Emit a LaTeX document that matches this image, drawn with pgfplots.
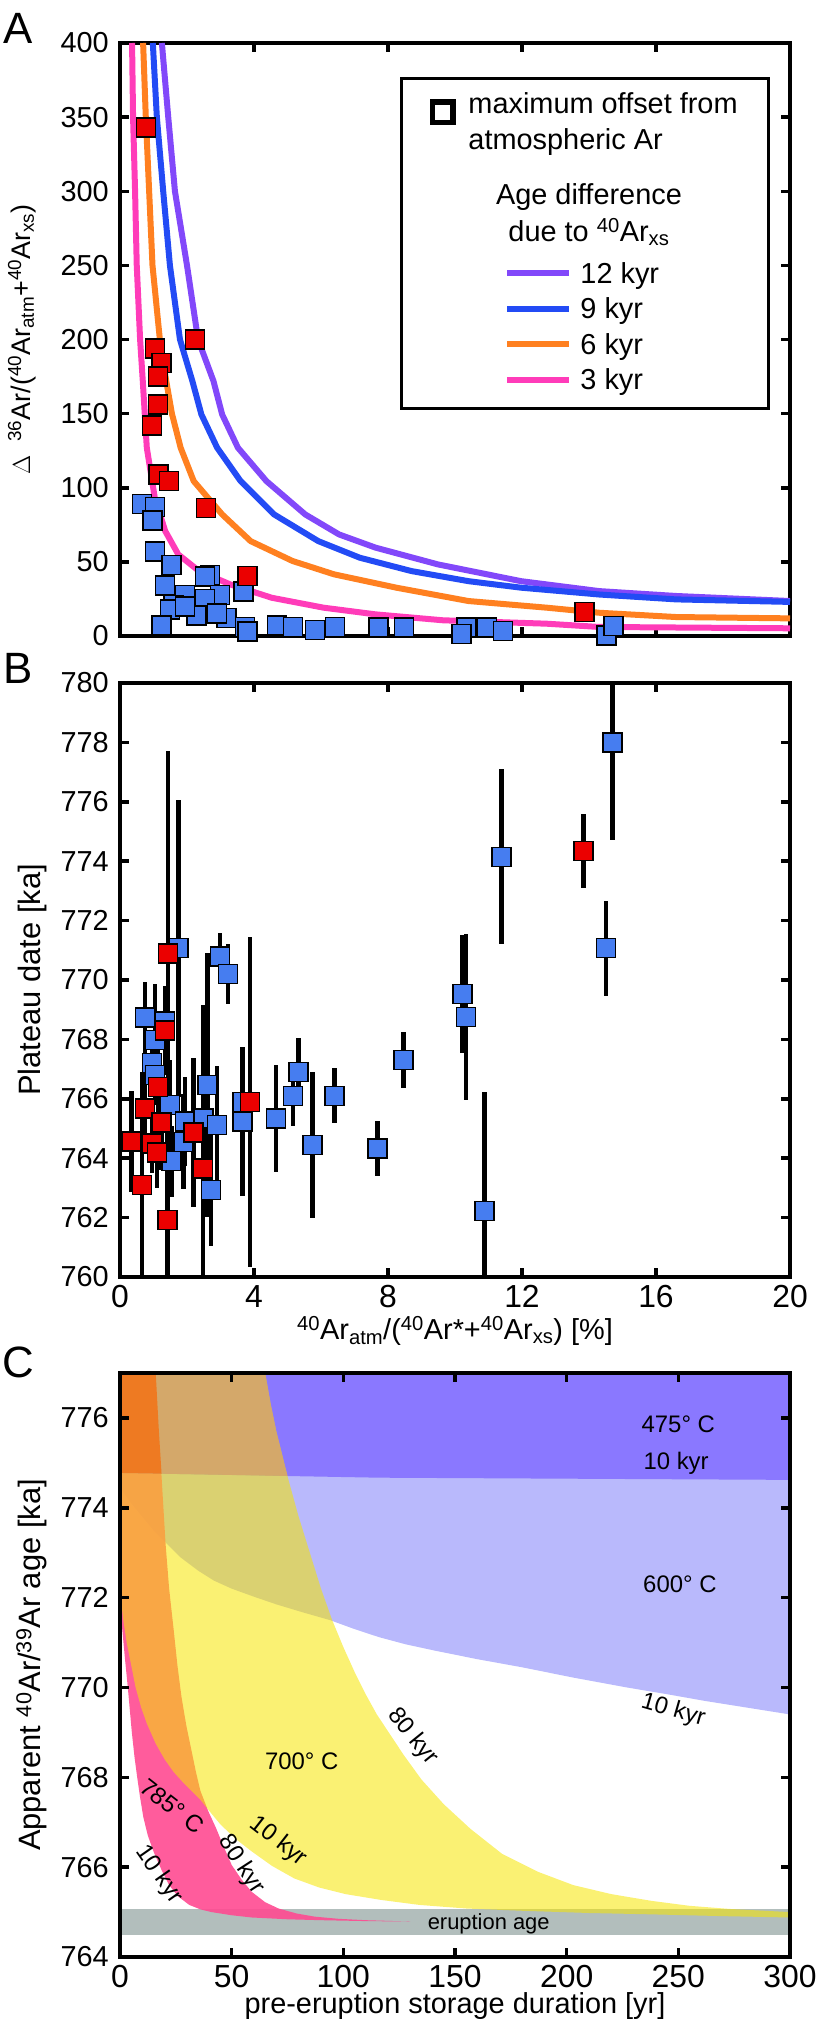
\documentclass[border=0pt]{standalone}
\usepackage{fontspec}
\setmainfont{Liberation Sans}
\usepackage{pgfplots}
\usepackage{pgfplotstable}
\pgfplotsset{compat=1.18}

\definecolor{c12}{RGB}{130,72,250}
\definecolor{c9}{RGB}{35,75,245}
\definecolor{c6}{RGB}{255,128,32}
\definecolor{c3}{RGB}{255,60,185}
\definecolor{mblue}{RGB}{70,125,240}
\definecolor{mred}{RGB}{235,0,0}
\definecolor{cpurple}{RGB}{138,120,255}
\definecolor{clav}{RGB}{185,185,252}
\definecolor{cyel}{RGB}{246,230,0}
\definecolor{cpink}{RGB}{255,74,145}
\definecolor{cgrey}{RGB}{178,190,188}
\definecolor{ctan}{RGB}{212,168,106}
\definecolor{cdorange}{RGB}{238,122,34}

\newcommand{\fs}[1]{\fontsize{#1}{#1}\selectfont}

\pgfplotsset{
  panel/.style={
    scale only axis, width=670bp,
    axis line style={line width=3.5bp},
    tick style={black, line width=3.5bp},
    major tick length=9bp,
    tick align=inside,
    /pgf/number format/assume math mode=true,
    yticklabel style={font=\fs{29}, anchor=east, inner sep=0pt, xshift=-11bp},
    xticklabel style={font=\fs{32}, anchor=north, inner sep=0pt, yshift=-8bp},
  },
  msq/.style={only marks, mark=square*, mark size=9.5bp, forget plot,
    mark options={draw=black, line width=1.5bp, fill=#1}},
  ebar/.style={only marks, mark=none, forget plot,
    error bars/.cd, y dir=both, y explicit, error mark=none,
    error bar style={draw=black, line width=4.5bp}},
}

% ---------- Panel A data ----------
\pgfplotstableread{
x y
0.65 89
1.04 87
0.97 78
1.04 57
1.54 48
2.69 41
2.54 40
1.34 34
1.94 27.6
2.99 27.6
2.54 25
3.68 30
1.59 21
1.49 18
2.29 14
3.18 12
2.89 15.3
1.94 20
1.24 7
3.73 6
3.8 3
4.68 7
5.17 6
5.82 4
6.42 6
7.71 5.6
8.48 5.6
10.34 5.6
10.2 1.5
10.96 5.6
11.43 3.4
14.52 0.5
14.73 6.7
}\Ablue
\pgfplotstableread{
x y
0.77 343
1.04 194
2.24 200
1.24 184
1.14 175
1.14 156
0.96 142
1.15 109
1.46 104.5
2.56 86.5
3.8 40.4
13.86 16.2
}\Ared

% ---------- Panel B data ----------
\pgfplotstableread{
x y e
0.75 768.74 1.2
1.04 767.98 1.9
0.95 767.2 1.0
1.34 768.6 1.0
1.74 771.07 5.0
1.04 766.8 1.0
1.49 765.8 1.5
1.54 763.9 1.2
1.94 765.23 1.5
1.89 764.55 1.6
2.49 765.34 2.0
2.61 766.46 4.45
2.72 762.93 1.9
2.89 765.12 2.0
2.99 770.79 0.8
3.23 770.2 1.0
3.66 765.23 2.5
3.66 765.9 0.8
4.66 765.34 1.8
5.17 766.1 1.0
5.33 766.9 1.15
5.75 764.44 2.45
6.41 766.1 0.93
7.69 764.33 0.93
8.46 767.31 0.95
10.23 769.53 2.0
10.33 768.76 2.8
10.88 762.22 4.0
11.39 774.15 2.95
14.5 771.07 1.6
14.7 778.0 3.3
}\Bblue
\pgfplotstableread{
x y e
0.35 764.56 1.7
0.65 763.1 3.8
0.75 765.68 1.3
0.95 764.5 1.0
1.1 764.2 1.2
1.14 766.4 1.3
1.24 765.2 1.6
1.34 768.3 1.5
1.44 770.9 6.8
1.42 761.92 4.0
2.2 764.86 2.5
2.48 763.66 5.5
3.88 765.9 5.55
13.83 774.35 1.25
}\Bred

\begin{document}
\begin{tikzpicture}
\useasboundingbox (0,0) rectangle (816bp,-2023bp);

% ================= A =================
\begin{axis}[panel, at={(120bp,-636bp)}, anchor=south west, height=593bp,
  xmin=0, xmax=20, ymin=0, ymax=400,
  xtick={0,4,...,20}, xticklabels={},
  ytick={0,50,...,400},
  clip=false,
  ylabel={\(\Delta\)\hspace{14bp}\textsuperscript{36}Ar/(\textsuperscript{40}Ar\textsubscript{atm}+\textsuperscript{40}Ar\textsubscript{xs})},
  ylabel style={font=\fs{27}, at={(axis description cs:-0.134,0.5)}, anchor=base},
  legend style={at={(axis description cs:0.9701,0.9427)}, anchor=north east,
    draw=black, line width=3bp, fill=white, inner sep=0pt,
    row sep=0pt, column sep=8.5bp, font=\fs{29},
    nodes={inner sep=0pt, text depth=, text height=}},
  legend cell align=left,
]
\addplot[c12, line width=6bp, line join=round, forget plot] coordinates {
(1.25,400)(1.44,350)(1.64,300)(2.0,250)(2.33,200)(2.79,172)(3.05,149.4)(3.52,127)(4.37,104.5)(5.53,82)(6.54,68.5)(7.63,59.6)(9.49,48.3)(11.97,37)(14.3,30.3)(16.6,27)(20,23.6)};
\addplot[c9, line width=6bp, line join=round, forget plot] coordinates {
(0.98,400)(1.1,350)(1.29,300)(1.49,250)(1.79,200)(2.16,172)(2.43,149.4)(2.9,127)(3.6,104.5)(4.6,82)(5.92,64)(7.16,52.8)(8.7,43.8)(10.4,37)(11.97,32.6)(14.3,28)(16.6,24.7)(20,23)};
\addplot[c6, line width=6bp, line join=round, forget plot] coordinates {
(0.69,400)(0.77,350)(0.87,300)(0.97,250)(1.19,200)(1.38,172)(1.55,150)(1.81,127)(2.2,104.5)(3.05,82)(3.9,64)(5.15,50.6)(6.39,41.6)(8.25,32.6)(10.4,23.6)(12.74,19.1)(14.3,15.7)(16.6,12.8)(20,11.9)};
\addplot[c3, line width=6bp, line join=round, forget plot] coordinates {
(0.36,400)(0.39,350)(0.45,300)(0.5,250)(0.6,200)(0.68,172)(0.8,127)(1.04,93)(1.35,70.8)(1.74,55)(2.36,43.8)(3.29,34.8)(4.53,25.8)(6.08,19.1)(7.63,14.6)(9.64,10.6)(12.74,8.3)(14.3,6.1)(20,5.2)};
\addplot[msq=mblue] table {\Ablue};
\addplot[msq=mred] table {\Ared};

\addlegendimage{legend image code/.code={\path (-104.7bp,0) (0,0);
  \draw[black, line width=5.5bp] (-74.95bp,3.25bp) rectangle (-54.45bp,23.75bp);}}
\addlegendentry{\raisebox{0pt}[71bp][24bp]{\makebox[188bp][l]{\hspace*{-112bp}\vbox{\baselineskip=36bp\lineskiplimit=-100bp\hbox{maximum offset from}\hbox{atmospheric Ar}}}}}
\addlegendimage{empty legend}
\addlegendentry{\raisebox{0pt}[68bp][13.95bp]{\makebox[0pt][l]{\hspace*{-99.5bp}\vbox{\baselineskip=37bp\lineskiplimit=-100bp\hbox to 215bp{\hfil Age difference\hfil}\hbox to 215bp{\hfil due to \textsuperscript{40}Ar\textsubscript{xs}\hfil}}}}}
\addlegendimage{legend image code/.code={\draw[c12, line width=6bp] (0,0) -- (61.6bp,0);}}
\addlegendentry{12 kyr\rule[-7.75bp]{0pt}{35.5bp}}
\addlegendimage{legend image code/.code={\draw[c9, line width=6bp] (0,0) -- (61.6bp,0);}}
\addlegendentry{9 kyr\rule[-7.75bp]{0pt}{35.5bp}}
\addlegendimage{legend image code/.code={\draw[c6, line width=6bp] (0,0) -- (61.6bp,0);}}
\addlegendentry{6 kyr\rule[-7.75bp]{0pt}{35.5bp}}
\addlegendimage{legend image code/.code={\path (0,-27bp); \draw[c3, line width=6bp] (0,0) -- (61.6bp,0);}}
\addlegendentry{3 kyr\rule[-7.75bp]{0pt}{35.5bp}}
\end{axis}

% ================= B =================
\begin{axis}[panel, at={(120bp,-1277bp)}, anchor=south west, height=594bp,
  xmin=0, xmax=20, ymin=760, ymax=780,
  xtick={0,4,...,20}, ytick={760,762,...,780},
  xlabel={\textsuperscript{40}Ar\textsubscript{atm}/(\textsuperscript{40}Ar*+\textsuperscript{40}Ar\textsubscript{xs}) [\%]},
  xlabel style={font=\fs{29}, at={(axis description cs:0.5,-0.106)}, anchor=base},
  ylabel={Plateau date [ka]},
  ylabel style={font=\fs{31}, at={(axis description cs:-0.119,0.5)}, anchor=base},
]
\addplot[ebar] table[x=x, y=y, y error=e] {\Bblue};
\addplot[ebar] table[x=x, y=y, y error=e] {\Bred};
\addplot[msq=mblue] table[x=x, y=y] {\Bblue};
\addplot[msq=mred] table[x=x, y=y] {\Bred};
\end{axis}

% ================= C =================
\begin{axis}[panel, at={(120bp,-1957bp)}, anchor=south west, height=584bp,
  xmin=0, xmax=300, ymin=764, ymax=777,
  xtick={0,50,...,300}, ytick={764,766,...,776},
  axis on top,
  xlabel={pre-eruption storage duration [yr]},
  xlabel style={font=\fs{29}, at={(axis description cs:0.5,-0.096)}, anchor=base},
  ylabel={Apparent \textsuperscript{40}Ar/\textsuperscript{39}Ar age [ka]},
  ylabel style={font=\fs{31}, at={(axis description cs:-0.119,0.5)}, anchor=base},
]
% 600 C band
\addplot[fill=clav, draw=none, forget plot] coordinates {
(-5,775.2)(-5,774.5)(0,774.45)(5,774.1)(10,773.8)(15,773.5)(20,773.25)(27,772.9)(35,772.6)(42,772.38)(50,772.2)(60,772.02)(70,771.85)(82,771.67)(94,771.5)(105,771.3)(116,771.12)(128,770.96)(141,770.82)(160,770.63)(180,770.45)(203,770.22)(227,770)(245,769.85)(262,769.7)(281,769.55)(300,769.4)(305,769.37)(305,775.2)};
% 475 C band
\addplot[fill=cpurple, draw=none, forget plot] coordinates {
(-5,774.78)(116,774.67)(305,774.62)(305,778)(-5,778)};
% eruption age
\addplot[fill=cgrey, draw=none, forget plot] coordinates {
(-5,764.5)(305,764.5)(305,765.08)(-5,765.08)};
% 785 C band
\addplot[fill=cpink, fill opacity=0.9, draw=none, forget plot] coordinates {
(-5,778)(0,772.0)(1,771.3)(2.3,770.6)(3.5,770)(4.4,769.5)(5.3,769)(6.5,768.45)(7.7,768)(9,767.55)(10.5,767.1)(12.5,766.7)(15,766.35)(18.5,765.95)(22,765.6)(26,765.35)(31,765.16)(36,765.06)(41,765.0)(50,764.93)(59,764.88)(75,764.84)(90,764.82)(110,764.8)(130,764.79)
(110,764.82)(98,764.85)(87,764.9)(79,764.97)(71,765.08)(65,765.22)(59,765.45)(54.5,765.72)(50,766.05)(46.5,766.45)(43,766.87)(39.5,767.25)(36,767.7)(34,768.12)(32,768.6)(29.7,769.15)(27.5,769.8)(25.7,770.5)(24,771.3)(22,772.2)(20.4,773.2)(18.6,774.7)(17.3,775.8)(16,777)(15.5,778)};
% 700 C band
\addplot[fill=cyel, fill opacity=0.55, draw=none, forget plot] coordinates {
(-5,778)(0,772.1)(1.5,771.5)(3,771)(5,770.5)(7,770)(9.5,769.55)(12,769.2)(16,768.75)(20,768.4)(24,768.12)(28,767.9)(32,767.7)(36,767.5)(40,767.25)(45,766.95)(52,766.62)(59,766.35)(68,766.03)(78,765.75)(89,765.55)(101,765.4)(117,765.27)(134,765.16)(155,765.08)(180,765.03)(210,764.98)(238,764.95)(270,764.91)(300,764.88)(305,764.87)
(305,765.0)(300,765.0)(273,765.07)(255,765.14)(238,765.25)(220,765.4)(203,765.6)(187,765.9)(171,766.3)(157,766.85)(145,767.4)(135,767.95)(127,768.5)(121,768.95)(115,769.4)(110,769.85)(105,770.35)(100,770.9)(95,771.5)(90,772.2)(85,773.0)(80,773.8)(75,774.7)(72.5,775.2)(70,775.7)(67.5,776.3)(65,777)(64.5,778)};
% 700 C band over the 475 C band
\addplot[fill=ctan, draw=none, forget plot] coordinates {
(-5,774.78)(75,774.71)(72.5,775.2)(70,775.7)(67.5,776.3)(65,777)(64.5,778)(-5,778)};
% 785 C and 700 C bands over the 475 C band
\addplot[fill=cdorange, draw=none, forget plot] coordinates {
(-5,774.78)(18.6,774.76)(17.3,775.8)(16,777)(15.5,778)(-5,778)};

\node[font=\fs{24}] at (axis cs:250,775.87) {475° C};
\node[font=\fs{24}] at (axis cs:249,774.98) {10 kyr};
\node[font=\fs{24}] at (axis cs:250.7,772.3) {600° C};
\node[font=\fs{24}, rotate=-16] at (axis cs:247.7,769.48) {10 kyr};
\node[font=\fs{24}] at (axis cs:81.4,768.36) {700° C};
\node[font=\fs{24}, rotate=-51] at (axis cs:131,768.9) {80 kyr};
\node[font=\fs{24}, rotate=-38] at (axis cs:70.9,766.57) {10 kyr};
\node[font=\fs{24}, rotate=-38] at (axis cs:23.3,767.35) {785° C};
\node[font=\fs{24}, rotate=-57] at (axis cs:54.2,766.05) {80 kyr};
\node[font=\fs{24}, rotate=-55] at (axis cs:17.4,765.84) {10 kyr};
\node[font=\fs{22}] at (axis cs:165.1,764.75) {eruption age};
\end{axis}

\node[font=\fs{44}] at (18bp,-28.5bp) {A};
\node[font=\fs{44}] at (18bp,-668bp) {B};
\node[font=\fs{44}] at (18bp,-1362bp) {C};
\end{tikzpicture}
\end{document}
